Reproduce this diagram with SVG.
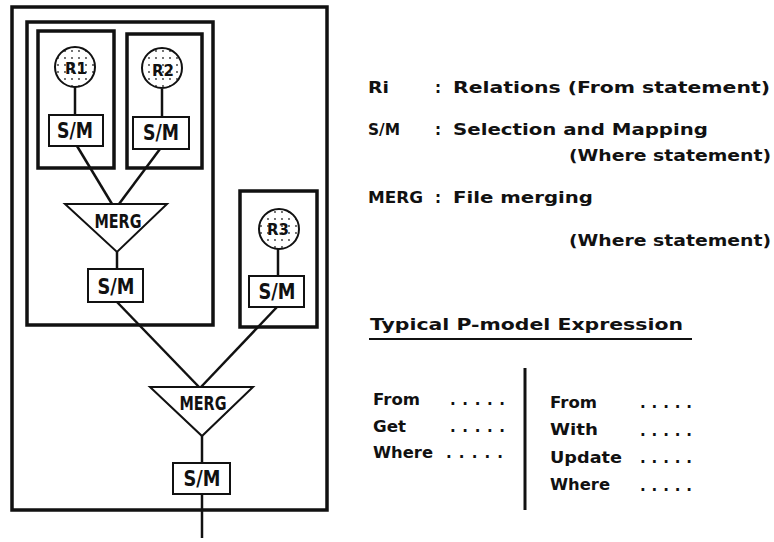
<svg xmlns="http://www.w3.org/2000/svg" width="774" height="542" viewBox="0 0 774 542">
<style>
.frame{fill:none;stroke:#111;stroke-width:3.5}
.box{fill:#fff;stroke:#111;stroke-width:2}
.ln{fill:none;stroke:#111;stroke-width:2.5}
.rel{fill:url(#dots);stroke:#111;stroke-width:2}
.lbl{font-family:"DejaVu Sans","Liberation Sans",sans-serif;font-weight:bold;fill:#111;text-anchor:middle}
.t{font-family:"DejaVu Sans","Liberation Sans",sans-serif;font-weight:bold;font-size:15px;fill:#111}
</style>
<defs>
<pattern id="dots" width="7" height="7" patternUnits="userSpaceOnUse">
<rect width="7" height="7" fill="#fff"/>
<circle cx="2" cy="2" r="0.9" fill="#333"/>
</pattern>
</defs>
<rect width="774" height="542" fill="#fff"/>

<g id="frames">
<rect class="frame" x="12" y="7" width="315" height="503"/>
<rect class="frame" x="27" y="22" width="186" height="303"/>
<rect class="frame" x="38" y="31" width="76" height="137"/>
<rect class="frame" x="127" y="34" width="75" height="134"/>
<rect class="frame" x="240" y="191" width="77" height="136"/>
</g>

<g id="connectors">
<line class="ln" x1="75" y1="87" x2="75" y2="115"/>
<line class="ln" x1="162" y1="89" x2="162" y2="117"/>
<line class="ln" x1="278" y1="249" x2="278" y2="276"/>
<line class="ln" x1="77" y1="146" x2="112" y2="204"/>
<line class="ln" x1="160" y1="149" x2="119" y2="204"/>
<line class="ln" x1="117" y1="252" x2="117" y2="269"/>
<line class="ln" x1="117" y1="302" x2="199" y2="387"/>
<line class="ln" x1="277" y1="307" x2="201" y2="387"/>
<line class="ln" x1="202" y1="436" x2="202" y2="463"/>
<line class="ln" x1="202" y1="494" x2="202" y2="538"/>
</g>

<g id="R1">
<circle class="rel" cx="75" cy="67" r="20"/>
<text class="lbl" x="76" y="74" font-size="16" textLength="22" lengthAdjust="spacingAndGlyphs">R1</text>
</g>
<g id="R2">
<circle class="rel" cx="162" cy="68" r="20"/>
<text class="lbl" x="163" y="76" font-size="16" textLength="22" lengthAdjust="spacingAndGlyphs">R2</text>
</g>
<g id="R3">
<circle class="rel" cx="279" cy="229" r="20"/>
<text class="lbl" x="278" y="235" font-size="16" textLength="22" lengthAdjust="spacingAndGlyphs">R3</text>
</g>

<g id="SM1">
<rect class="box" x="49" y="115" width="54" height="31"/>
<text class="lbl" x="75" y="138" font-size="21" textLength="36" lengthAdjust="spacingAndGlyphs">S/M</text>
</g>
<g id="SM2">
<rect class="box" x="133" y="117" width="56" height="32"/>
<text class="lbl" x="161" y="140" font-size="21" textLength="36" lengthAdjust="spacingAndGlyphs">S/M</text>
</g>
<g id="MERG1">
<polygon class="box" points="65,204 167,204 117,252"/>
<text class="lbl" x="118" y="228" font-size="20" textLength="47" lengthAdjust="spacingAndGlyphs">MERG</text>
</g>
<g id="SM3">
<rect class="box" x="88" y="269" width="55" height="33"/>
<text class="lbl" x="116" y="294" font-size="21" textLength="37" lengthAdjust="spacingAndGlyphs">S/M</text>
</g>
<g id="SM4">
<rect class="box" x="249" y="276" width="55" height="31"/>
<text class="lbl" x="277" y="299" font-size="21" textLength="37" lengthAdjust="spacingAndGlyphs">S/M</text>
</g>
<g id="MERG2">
<polygon class="box" points="150,387 253,387 202,436"/>
<text class="lbl" x="203" y="410" font-size="20" textLength="47" lengthAdjust="spacingAndGlyphs">MERG</text>
</g>
<g id="SM5">
<rect class="box" x="173" y="463" width="57" height="31"/>
<text class="lbl" x="202" y="486" font-size="21" textLength="37" lengthAdjust="spacingAndGlyphs">S/M</text>
</g>

<g id="legend">
<text class="t" x="368" y="93" textLength="21" lengthAdjust="spacingAndGlyphs">Ri</text>
<text class="t" x="435" y="93">:</text>
<text class="t" x="453" y="93" textLength="317" lengthAdjust="spacingAndGlyphs">Relations (From statement)</text>
<text class="t" x="368" y="135" textLength="32" lengthAdjust="spacingAndGlyphs">S/M</text>
<text class="t" x="435" y="135">:</text>
<text class="t" x="453" y="135" textLength="255" lengthAdjust="spacingAndGlyphs">Selection and Mapping</text>
<text class="t" x="569" y="161" textLength="202" lengthAdjust="spacingAndGlyphs">(Where statement)</text>
<text class="t" x="368" y="203" textLength="55" lengthAdjust="spacingAndGlyphs">MERG</text>
<text class="t" x="435" y="203">:</text>
<text class="t" x="453" y="203" textLength="140" lengthAdjust="spacingAndGlyphs">File merging</text>
<text class="t" x="569" y="246" textLength="202" lengthAdjust="spacingAndGlyphs">(Where statement)</text>
</g>

<g id="expression">
<text class="t" x="370" y="330" textLength="313" lengthAdjust="spacingAndGlyphs">Typical P-model Expression</text>
<line x1="369" y1="339" x2="692" y2="339" stroke="#111" stroke-width="2"/>
<line x1="525" y1="368" x2="525" y2="510" stroke="#111" stroke-width="3"/>
<text class="t" x="373" y="405" textLength="47" lengthAdjust="spacingAndGlyphs">From</text>
<text class="t" x="450" y="405" textLength="55" lengthAdjust="spacing">.....</text>
<text class="t" x="373" y="432" textLength="33" lengthAdjust="spacingAndGlyphs">Get</text>
<text class="t" x="450" y="432" textLength="55" lengthAdjust="spacing">.....</text>
<text class="t" x="373" y="458" textLength="60" lengthAdjust="spacingAndGlyphs">Where</text>
<text class="t" x="446" y="458" textLength="57" lengthAdjust="spacing">.....</text>
<text class="t" x="550" y="408" textLength="47" lengthAdjust="spacingAndGlyphs">From</text>
<text class="t" x="640" y="408" textLength="52" lengthAdjust="spacing">.....</text>
<text class="t" x="550" y="435" textLength="48" lengthAdjust="spacingAndGlyphs">With</text>
<text class="t" x="640" y="436" textLength="52" lengthAdjust="spacing">.....</text>
<text class="t" x="550" y="463" textLength="72" lengthAdjust="spacingAndGlyphs">Update</text>
<text class="t" x="640" y="463" textLength="52" lengthAdjust="spacing">.....</text>
<text class="t" x="550" y="490" textLength="60" lengthAdjust="spacingAndGlyphs">Where</text>
<text class="t" x="640" y="491" textLength="52" lengthAdjust="spacing">.....</text>
</g>
</svg>
